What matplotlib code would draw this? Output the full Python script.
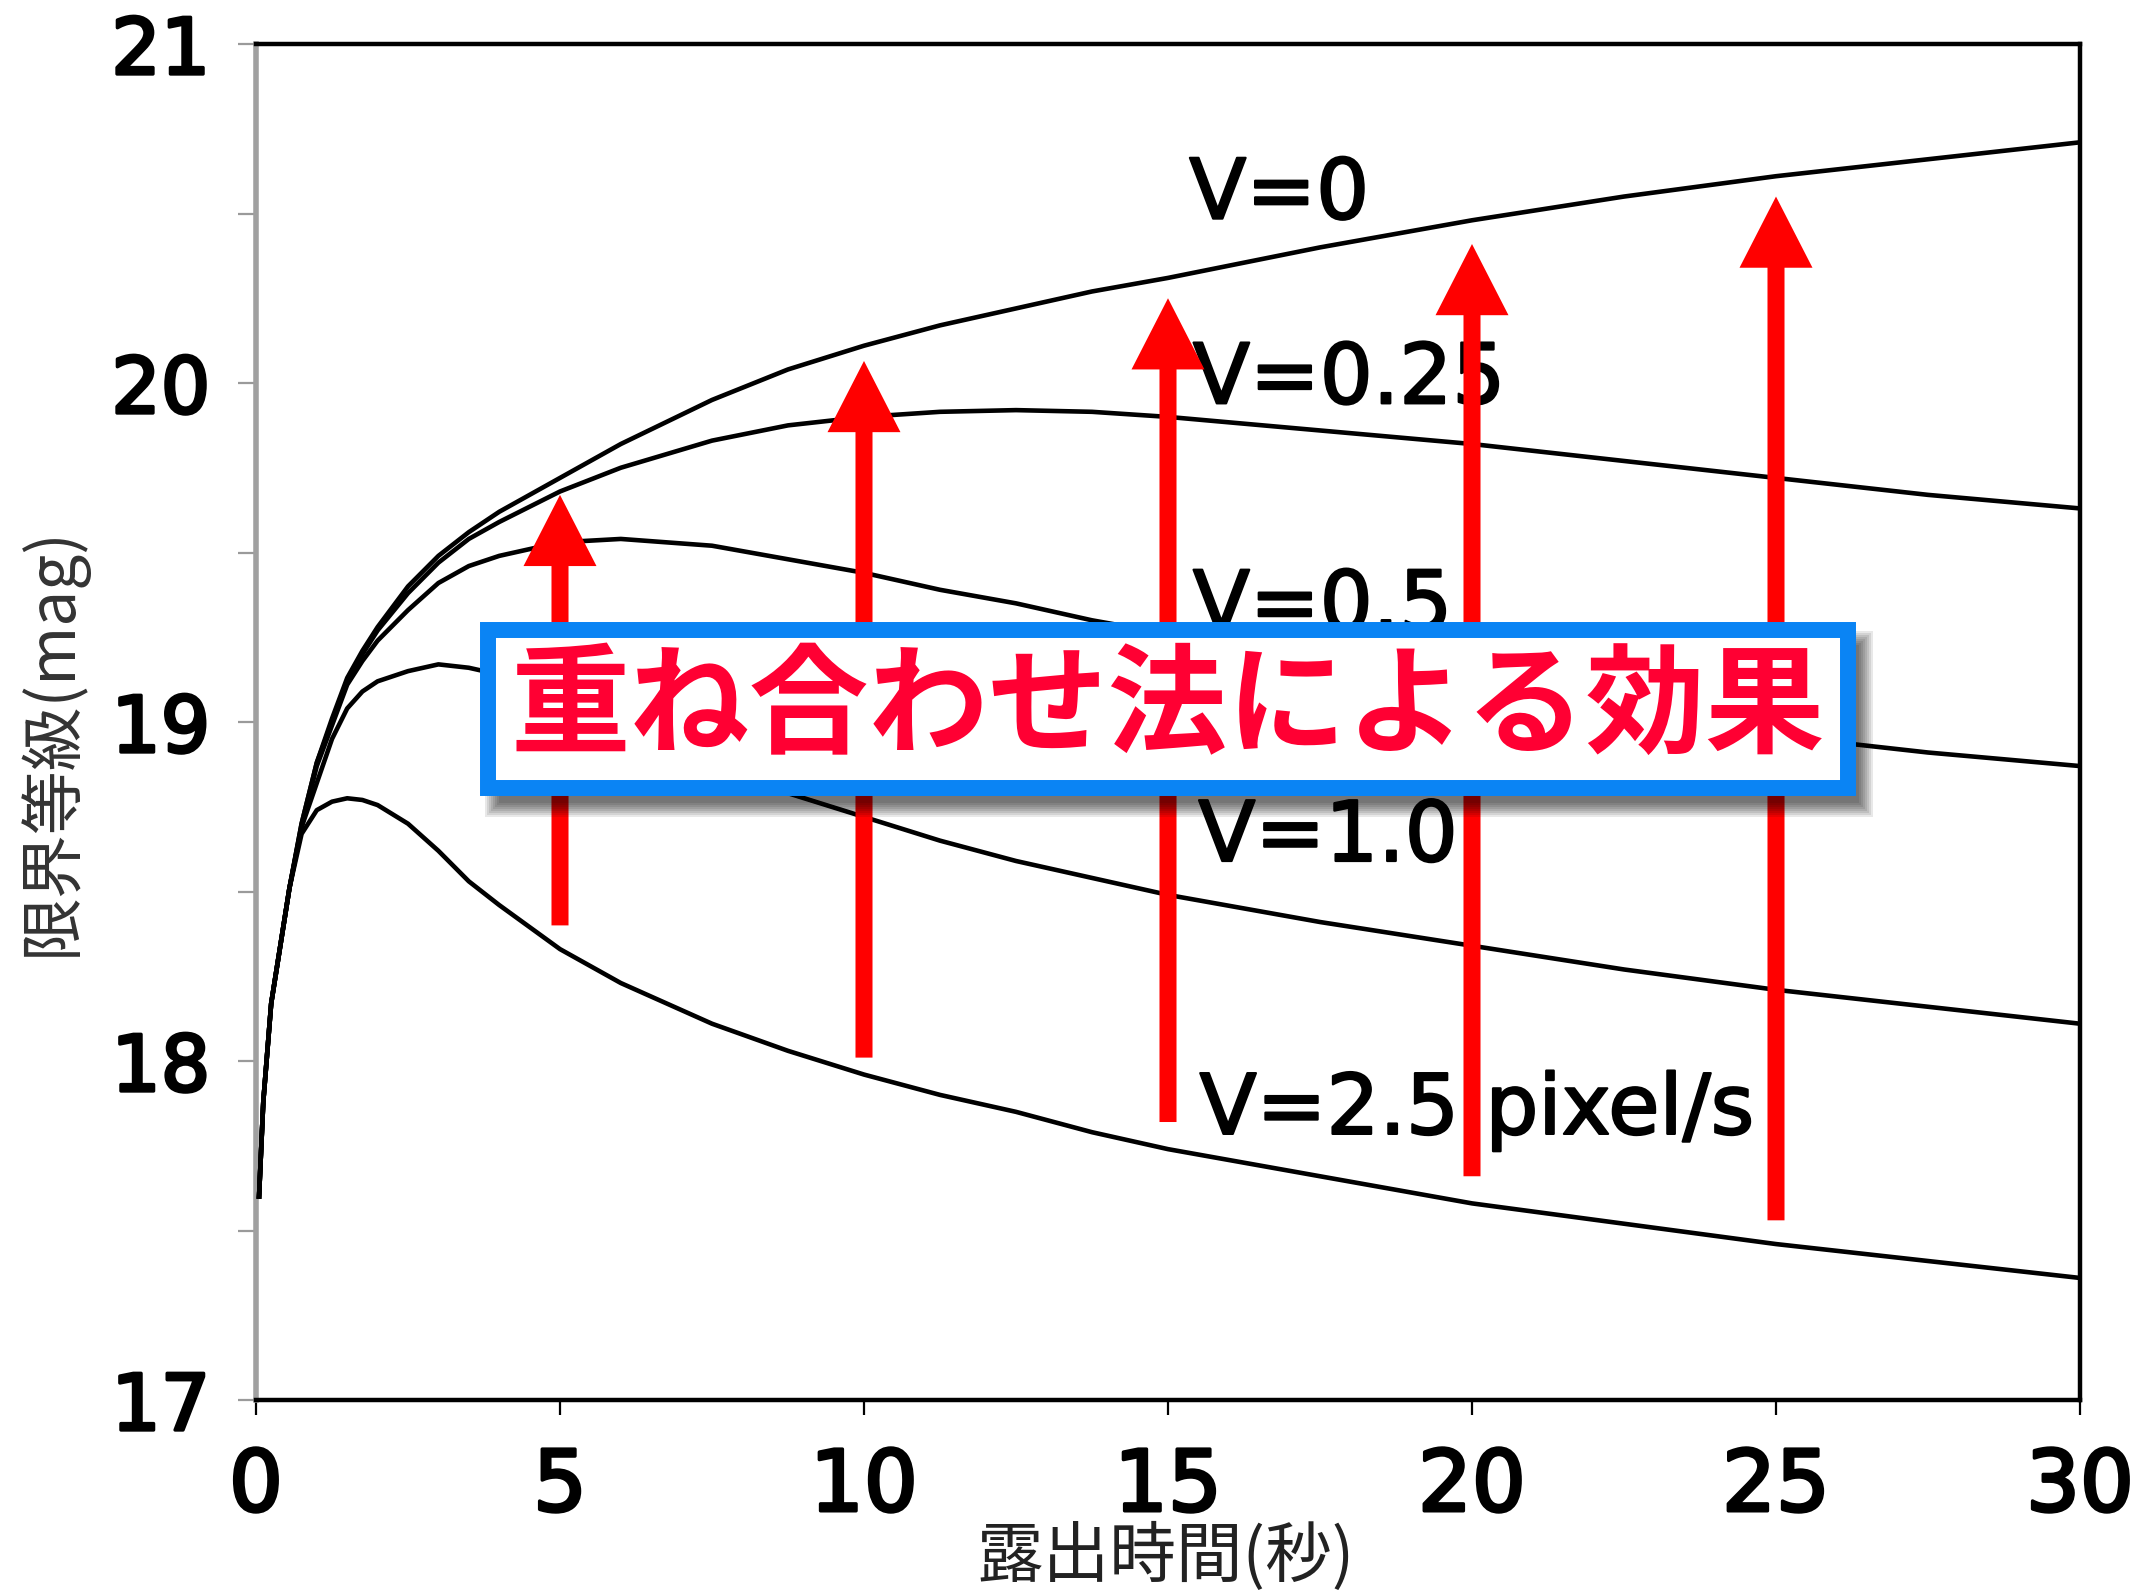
"""Limiting magnitude vs exposure time, with the stacking-effect arrows."""

import matplotlib

matplotlib.use("Agg")
from matplotlib import patheffects  # noqa: E402
from matplotlib import pyplot as plt  # noqa: E402
from matplotlib.patches import Rectangle  # noqa: E402

# exposure time (s) shared by all curves
exposure_s = [0.05, 0.12, 0.25, 0.4, 0.55, 0.75, 1.0, 1.25, 1.5, 1.75, 2.0,
              2.5, 3.0, 3.5, 4.0, 5.0, 6.0, 7.5, 8.75, 10, 11.25, 12.5, 13.75,
              15, 17.5, 20, 22.5, 25, 27.5, 30]

# limiting magnitude for each image speed (pixel/s)
mag_v0 = [17.60, 17.88, 18.17, 18.34, 18.51, 18.70, 18.88, 19.01, 19.13, 19.21,
          19.28, 19.40, 19.49, 19.56, 19.62, 19.72, 19.82, 19.95, 20.04, 20.11,
          20.17, 20.22, 20.27, 20.31, 20.40, 20.48, 20.55, 20.61, 20.66, 20.71]
mag_v025 = [17.60, 17.88, 18.17, 18.34, 18.51, 18.70, 18.88, 19.00, 19.12, 19.20,
            19.27, 19.38, 19.47, 19.54, 19.59, 19.68, 19.75, 19.83, 19.875,
            19.90, 19.915, 19.92, 19.915, 19.90, 19.86, 19.82, 19.77, 19.72,
            19.67, 19.63]
mag_v05 = [17.60, 17.88, 18.17, 18.34, 18.51, 18.69, 18.87, 18.99, 19.11, 19.18,
           19.24, 19.33, 19.41, 19.46, 19.49, 19.53, 19.54, 19.52, 19.48, 19.44,
           19.39, 19.35, 19.30, 19.26, 19.16, 19.08, 19.01, 18.96, 18.91, 18.87]
mag_v1 = [17.60, 17.88, 18.17, 18.34, 18.51, 18.69, 18.82, 18.95, 19.04, 19.09,
          19.12, 19.15, 19.17, 19.16, 19.14, 19.07, 18.99, 18.87, 18.79, 18.72,
          18.65, 18.59, 18.54, 18.49, 18.41, 18.34, 18.27, 18.21, 18.16, 18.11]
mag_v25 = [17.60, 17.88, 18.17, 18.34, 18.51, 18.67, 18.74, 18.765, 18.775,
           18.77, 18.755, 18.70, 18.62, 18.53, 18.46, 18.33, 18.23, 18.11, 18.03,
           17.96, 17.90, 17.85, 17.79, 17.74, 17.66, 17.58, 17.52, 17.46, 17.41,
           17.36]

curve_labels = ["V=0", "V=0.25", "V=0.5", "V=1.0", "V=2.5 pixel/s"]
label_x = [15.35, 15.41, 15.41, 15.50, 15.52]
label_y = [20.485, 19.94, 19.27, 18.59, 17.785]

# stacking-effect arrows: from the fast-object value up to the gain
arrow_x = [5, 10, 15, 20, 25]
arrow_lo = [18.40, 18.01, 17.82, 17.66, 17.53]
arrow_hi = [19.67, 20.065, 20.25, 20.41, 20.55]

x_ticks = [0, 5, 10, 15, 20, 25, 30]
y_ticks = [17, 18, 19, 20, 21]
y_minor = [17.5, 18.5, 19.5, 20.5]

title_text = "重ね合わせ法による効果"
W, H = 2143, 1590

fig = plt.figure(figsize=(W / 100, H / 100), dpi=100)
ax = fig.add_axes([256 / W, 190 / H, 1824 / W, 1356 / H])

for mags in [mag_v0, mag_v025, mag_v05, mag_v1, mag_v25]:
    ax.plot(exposure_s, mags, color="black", lw=3.3, zorder=3,
            solid_joinstyle="round")

bolder = [patheffects.withStroke(linewidth=1.6, foreground="black")]
for text, x, y in zip(curve_labels, label_x, label_y):
    ax.text(x, y, text, fontsize=60, family="DejaVu Sans", color="black",
            ha="left", va="baseline", zorder=4, path_effects=bolder)

for x, lo, hi in zip(arrow_x, arrow_lo, arrow_hi):
    ax.arrow(x, lo, 0, hi - lo, width=0.28, head_width=1.2, head_length=0.21,
             length_includes_head=True, color="#ff0000", lw=0, zorder=5)

ax.set_xlim(0, 30)
ax.set_ylim(17, 21)
ax.set_xticks(x_ticks, [str(v) for v in x_ticks])
ax.set_yticks(y_ticks, [str(v) for v in y_ticks])
ax.set_yticks(y_minor, minor=True)
tick_bold = [patheffects.withStroke(linewidth=2.4, foreground="black")]
for lab in ax.get_xticklabels():
    lab.set_fontfamily("DejaVu Sans")
    lab.set_fontsize(61)
    lab.set_path_effects(tick_bold)
for lab in ax.get_yticklabels():
    lab.set_fontfamily("DejaVu Sans")
    lab.set_fontsize(56)
    lab.set_path_effects(tick_bold)
ax.tick_params(axis="x", direction="out", length=11, width=1.6,
               color="black", pad=22)
ax.tick_params(axis="y", which="both", direction="out", length=13, width=1.6,
               color="#9a9a9a", pad=20)
for side in ["top", "right", "bottom"]:
    ax.spines[side].set_linewidth(3.2)
    ax.spines[side].set_color("black")
ax.spines["left"].set_linewidth(4)
ax.spines["left"].set_color("#a0a0a0")

# box with soft shadow
bx, by, bw, bh = 488 / W, 802 / H, 1360 / W, 158 / H
for k in range(8):
    grow = (14 - 2 * k)
    ax.add_patch(Rectangle((bx + (11 - grow) / W, by - (15 + grow) / H),
                           bw + 2 * grow / W, bh + 2 * grow / H,
                           transform=fig.transFigure, facecolor="black",
                           edgecolor="none", alpha=0.09, clip_on=False,
                           zorder=6))
ax.add_patch(Rectangle((bx, by), bw, bh, transform=fig.transFigure,
                       facecolor="white", edgecolor="#0a84f4", lw=11.5,
                       clip_on=False, zorder=7))
ax.text(bx + bw / 2, by + bh / 2, title_text, transform=fig.transFigure,
        fontsize=86, fontweight="bold", color="#ff0033",
        family=["Noto Sans CJK JP", "DejaVu Sans"],
        ha="center", va="center", zorder=8)

fig.text(52 / W, 1 - 741 / H, "限界等級(mag)", rotation=90, fontsize=46,
         color="#333333", family=["Noto Sans CJK JP", "DejaVu Sans"],
         ha="center", va="center")
fig.text(1166 / W, 33 / H, "露出時間(秒)", fontsize=48, color="#222222",
         family=["Noto Sans CJK JP", "DejaVu Sans"], ha="center", va="center")

fig.savefig("out.png", dpi=100)
